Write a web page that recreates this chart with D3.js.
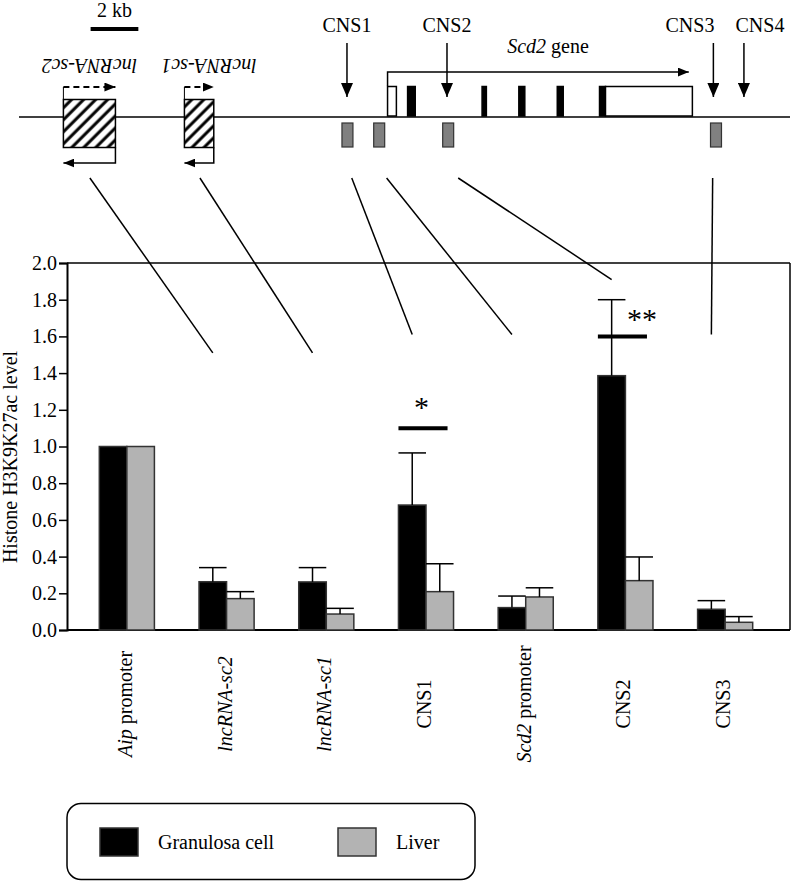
<!DOCTYPE html>
<html><head><meta charset="utf-8">
<script src="https://cdn.jsdelivr.net/npm/d3@7"></script>
<style>
html,body{margin:0;padding:0;background:#fff;}
svg{display:block;}
</style></head>
<body><svg id="chart" width="793" height="884"></svg>
<script>
// ---------- chart data ----------
const categories = ["Aip promoter","lncRNA-sc2","lncRNA-sc1","CNS1","Scd2 promoter","CNS2","CNS3"];
const labelItalic = ["Aip","lncRNA-sc2","lncRNA-sc1","","Scd2","",""];
const labelPlain  = [" promoter","","","CNS1"," promoter","CNS2","CNS3"];
const seriesNames = ["Granulosa cell","Liver"];
const seriesColors = ["#000000","#b3b3b3"];
const granulosa    = [1.00, 0.263, 0.262, 0.681, 0.122, 1.386, 0.113];
const granulosaErr = [0.00, 0.077, 0.078, 0.284, 0.063, 0.414, 0.047];
const liver        = [1.00, 0.171, 0.087, 0.209, 0.180, 0.269, 0.042];
const liverErr     = [0.00, 0.038, 0.031, 0.152, 0.050, 0.129, 0.031];
const yTicks = [0,0.2,0.4,0.6,0.8,1.0,1.2,1.4,1.6,1.8,2.0];
const significance = [{cat:"CNS1", level:1.10, mark:"*"},{cat:"CNS2", level:1.60, mark:"**"}];

// ---------- gene map data (kb) ----------
const scaleBarKb = [3, 5];
const lncRNAs = [{name:"lncRNA-sc2", start:1.86, end:4.04},{name:"lncRNA-sc1", start:6.93, end:8.16}];
const amplicons = [[13.53,13.99],[14.86,15.32],[17.75,18.21],[28.97,29.43]];
const cnsArrows = [{name:"CNS1",pos:13.74,label:13.74},{name:"CNS2",pos:17.93,label:17.93},{name:"CNS3",pos:29.09,label:28.11},{name:"CNS4",pos:30.37,label:31.04}];
const exons = [[15.44,15.81,"utr"],[16.28,16.60,"cds"],[19.40,19.58,"cds"],[20.94,21.19,"cds"],[22.55,22.80,"cds"],[24.32,24.57,"cds"],[24.57,28.21,"utr"]];
const tssKb = 15.44, transcriptEndKb = 28.06;
const linkCats   = ["lncRNA-sc2","lncRNA-sc1","CNS1","Scd2 promoter","CNS2","CNS3"];
const linkFromKb = [2.97, 7.58, 13.94, 15.40, 18.40, 29.06];
const linkToVal  = [1.51, 1.51, 1.61, 1.61, 1.91, 1.61];

// ---------- setup ----------
const FONT = '"Liberation Serif", "Tinos", serif';
const svg = d3.select("#chart").style("font-family", FONT);
const FS = 20;
const defs = svg.append("defs");
const pat = defs.append("pattern").attr("id","hatch").attr("patternUnits","userSpaceOnUse")
  .attr("width",8.5).attr("height",8.5).attr("patternTransform","rotate(45)");
pat.append("rect").attr("width",8.5).attr("height",8.5).attr("fill","#fff");
pat.append("line").attr("x1",2).attr("x2",2).attr("y1",0).attr("y2",8.5).attr("stroke","#000").attr("stroke-width",3);
function arrowMarker(id, w, h){
  defs.append("marker").attr("id",id).attr("viewBox",`0 0 ${w} ${h}`).attr("refX",w).attr("refY",h/2)
   .attr("markerWidth",w).attr("markerHeight",h).attr("markerUnits","userSpaceOnUse").attr("orient","auto")
   .append("path").attr("d",`M0,0L${w},${h/2}L0,${h}Z`).attr("fill","#000");
}
arrowMarker("ahBig",14,12);
arrowMarker("ahSmall",11,9);
function txt(sel){ return sel.append("text").style("font-family", FONT).attr("font-size", FS).attr("fill","#000"); }

// ---------- gene map ----------
const gx = d3.scaleLinear().domain([0,32.3]).range([19,790]);
const lineY = 117;
const g = svg.append("g");
g.append("line").attr("x1",gx(scaleBarKb[0])).attr("x2",gx(scaleBarKb[1])).attr("y1",29).attr("y2",29).attr("stroke","#000").attr("stroke-width",4);
txt(g).attr("x",(gx(scaleBarKb[0])+gx(scaleBarKb[1]))/2).attr("y",17).attr("text-anchor","middle").text("2 kb");
g.append("line").attr("x1",gx(0)).attr("x2",gx(32.3)).attr("y1",lineY).attr("y2",lineY).attr("stroke","#000").attr("stroke-width",1.5);
lncRNAs.forEach(d=>{
  const x0=gx(d.start), x1=gx(d.end);
  g.append("rect").attr("x",x0).attr("y",99.5).attr("width",x1-x0).attr("height",48).attr("fill","url(#hatch)").attr("stroke","#000").attr("stroke-width",1.5);
  g.append("line").attr("x1",x0).attr("x2",x0).attr("y1",99.5).attr("y2",87).attr("stroke","#000").attr("stroke-width",1);
  g.append("line").attr("x1",x0).attr("x2",x1).attr("y1",87).attr("y2",87).attr("stroke","#000").attr("stroke-width",2)
    .attr("stroke-dasharray","6,4").attr("marker-end","url(#ahSmall)");
  g.append("path").attr("d",`M${x1},147.5V163H${x0}`).attr("fill","none").attr("stroke","#000").attr("stroke-width",1.5).attr("marker-end","url(#ahSmall)");
  const cx=(x0+x1)/2+ (d.name==="lncRNA-sc1"?10:0);
  txt(g).attr("transform",`translate(${cx},66) rotate(180)`).attr("text-anchor","middle").attr("dy","0.35em")
    .attr("font-style","italic").text(d.name);
});
amplicons.forEach(a=>{
  g.append("rect").attr("x",gx(a[0])).attr("y",123).attr("width",gx(a[1])-gx(a[0])).attr("height",24)
   .attr("fill","#808080").attr("stroke","#333").attr("stroke-width",1.2);
});
cnsArrows.forEach(c=>{
  g.append("line").attr("x1",gx(c.pos)).attr("x2",gx(c.pos)).attr("y1",43).attr("y2",97).attr("stroke","#000").attr("stroke-width",1.5).attr("marker-end","url(#ahBig)");
  txt(g).attr("x",gx(c.label)).attr("y",32).attr("text-anchor","middle").text(c.name);
});
exons.forEach(e=>{
  g.append("rect").attr("x",gx(e[0])).attr("y",86.5).attr("width",gx(e[1])-gx(e[0])).attr("height",29.5)
    .attr("fill",e[2]==="cds"?"#000":"#fff").attr("stroke","#000").attr("stroke-width",1.5);
});
g.append("path").attr("d",`M${gx(tssKb)},86V72H${gx(transcriptEndKb)}`).attr("fill","none").attr("stroke","#000").attr("stroke-width",1.5).attr("marker-end","url(#ahSmall)");
const gl = txt(g).attr("x",548).attr("y",53).attr("text-anchor","middle");
gl.append("tspan").attr("font-style","italic").text("Scd2");
gl.append("tspan").text(" gene");

// ---------- bar chart ----------
const y = d3.scaleLinear().domain([0,2]).range([630,263]);
const xAxisLeft = 67, plotRight = 790;
const x = d3.scaleBand().domain(categories).range([77,775]);
const xs = d3.scaleBand().domain(seriesNames).range([0,x.bandwidth()]).paddingOuter(0.81);
const cx = c => x(c)+x.bandwidth()/2;

const rows = categories.map((c,i)=>({cat:c, vals:[
  {s:seriesNames[0], v:granulosa[i], e:granulosaErr[i], col:seriesColors[0]},
  {s:seriesNames[1], v:liver[i], e:liverErr[i], col:seriesColors[1]}]}));

linkCats.forEach((c,i)=>{
  svg.append("line").attr("x1",gx(linkFromKb[i])).attr("y1",178)
    .attr("x2",x(c)+xs(seriesNames[0])+xs.bandwidth()/2).attr("y2",y(linkToVal[i]))
    .attr("stroke","#000").attr("stroke-width",1.5);
});

svg.append("line").attr("x1",xAxisLeft).attr("x2",plotRight).attr("y1",y(2)).attr("y2",y(2)).attr("stroke","#000").attr("stroke-width",1.5);
svg.append("line").attr("x1",plotRight).attr("x2",plotRight).attr("y1",y(2)).attr("y2",y(0)).attr("stroke","#000").attr("stroke-width",1.5);
svg.append("line").attr("x1",xAxisLeft).attr("x2",plotRight).attr("y1",y(0)).attr("y2",y(0)).attr("stroke","#000").attr("stroke-width",2);

const grp = svg.append("g").selectAll("g").data(rows).join("g").attr("transform",d=>`translate(${x(d.cat)},0)`);
grp.selectAll("rect").data(d=>d.vals).join("rect")
  .attr("x",d=>xs(d.s)).attr("width",xs.bandwidth())
  .attr("y",d=>y(d.v)).attr("height",d=>y(0)-y(d.v))
  .attr("fill",d=>d.col).attr("stroke","#333").attr("stroke-width",1.5);
grp.each(function(d){
  d.vals.filter(v=>v.e>0).forEach(v=>{
    const mx = xs(v.s)+xs.bandwidth()/2;
    d3.select(this).append("line").attr("x1",mx).attr("x2",mx).attr("y1",y(v.v)).attr("y2",y(v.v+v.e)).attr("stroke","#000").attr("stroke-width",1.5);
    d3.select(this).append("line").attr("x1",mx-xs.bandwidth()/2).attr("x2",mx+xs.bandwidth()/2).attr("y1",y(v.v+v.e)).attr("y2",y(v.v+v.e)).attr("stroke","#000").attr("stroke-width",1.5);
  });
});

const yAxis = d3.axisLeft(y).tickValues(yTicks).tickFormat(d3.format(".1f")).tickSize(8).tickPadding(2);
const ya = svg.append("g").attr("transform",`translate(${xAxisLeft},0)`).call(yAxis);
ya.attr("font-family",null);
ya.select(".domain").attr("stroke-width",2);
ya.selectAll(".tick line").attr("stroke-width",1.5);
ya.selectAll("text").style("font-family",FONT).attr("font-size",FS).attr("fill","#000");
txt(svg).attr("transform","translate(17,457) rotate(-90)").attr("text-anchor","middle").text("Histone H3K9K27ac level");

categories.forEach((c,i)=>{
  const t = txt(svg).attr("transform",`translate(${cx(c)-2},704) rotate(-90)`).attr("text-anchor","middle").attr("dy","0.35em");
  if(labelItalic[i]) t.append("tspan").attr("font-style","italic").text(labelItalic[i]);
  if(labelPlain[i]) t.append("tspan").text(labelPlain[i]);
});

significance.forEach(s=>{
  const x0 = x(s.cat)+xs(seriesNames[0]), x1 = x0+2*xs.bandwidth()-6;
  svg.append("line").attr("x1",x0).attr("x2",x1).attr("y1",y(s.level)).attr("y2",y(s.level)).attr("stroke","#000").attr("stroke-width",4);
  const tx = s.mark==="*" ? x0+23 : x0+44;
  txt(svg).attr("x",tx).attr("y",y(s.level)-(s.mark==="*"?11:7)).attr("text-anchor","middle").attr("font-size",30).text(s.mark);
});

const lg = svg.append("g");
lg.append("rect").attr("x",67).attr("y",803.5).attr("width",408).attr("height",76).attr("rx",14).attr("fill","none").attr("stroke","#000").attr("stroke-width",1.5);
const lgX = [100, 338];
seriesNames.forEach((s,i)=>{
  lg.append("rect").attr("x",lgX[i]).attr("y",828).attr("width",38).attr("height",28).attr("fill",seriesColors[i]).attr("stroke","#333").attr("stroke-width",1.5);
  txt(lg).attr("x",lgX[i]+58).attr("y",849).text(s);
});
</script></body></html>
